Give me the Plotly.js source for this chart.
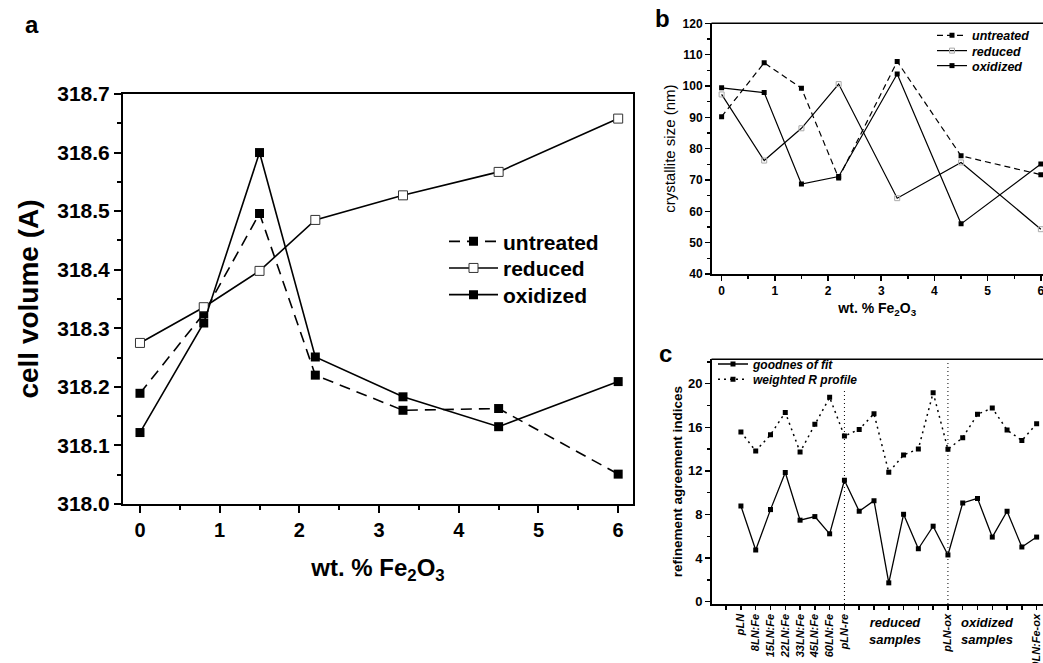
<!DOCTYPE html>
<html><head><meta charset="utf-8">
<script src="https://cdn.plot.ly/plotly-3.0.1.min.js"></script>
<style>html,body{margin:0;padding:0;background:#fff;} #chart{width:1043px;height:663px;}</style>
</head><body><div id="chart"></div>
<script>
// ---- panel a: cell volume ----
const fe2o3 = [0, 0.8, 1.5, 2.2, 3.3, 4.5, 6];
const volUntreated = [318.189, 318.325, 318.496, 318.220, 318.160, 318.163, 318.051];
const volReduced   = [318.275, 318.336, 318.398, 318.485, 318.527, 318.567, 318.658];
const volOxidized  = [318.122, 318.309, 318.600, 318.251, 318.183, 318.132, 318.209];

// ---- panel b: crystallite size ----
const sizeUntreated = [90.2, 107.4, 99.3, 70.6, 107.8, 77.7, 71.7];
const sizeReduced   = [97.3, 76.2, 86.5, 100.6, 64.2, 75.6, 54.3];
const sizeOxidized  = [99.4, 97.9, 68.7, 71.1, 103.8, 56.0, 75.1];

// ---- panel c: refinement agreement indices ----
const goodnessOfFit    = [8.78, 4.74, 8.45, 11.85, 7.48, 7.81, 6.23, 11.14, 8.30, 9.27, 1.73, 8.02, 4.86, 6.93, 4.29, 9.06, 9.48, 5.93, 8.30, 5.02, 5.93];
const weightedRProfile = [15.57, 13.83, 15.32, 17.37, 13.73, 16.27, 18.75, 15.20, 15.81, 17.25, 11.87, 13.46, 14.01, 19.18, 13.98, 15.05, 17.19, 17.77, 15.75, 14.80, 16.33];
const sampleTickLabels = ['', 'pLN', '8LN:Fe', '15LN:Fe', '22LN:Fe', '33LN:Fe', '45LN:Fe', '60LN:Fe', 'pLN-re', '', '', '', '', '', '', 'pLN-ox', '', '', '', '', '', '60LN:Fe-ox'];
const groupLabels = ['reduced<br>samples', 'oxidized<br>samples'];

const samplePos = goodnessOfFit.map((_, i) => i + 1);
const tickPos = sampleTickLabels.map((_, i) => i);

const F = 'Liberation Sans, Arial, Helvetica, sans-serif';
const W = 1043, H = 663;
const px = v => v / W;
const py = v => 1 - v / H;

const traces = [
  // panel a
  {x: fe2o3, y: volUntreated, name: 'untreated', xaxis: 'x', yaxis: 'y', legend: 'legend',
   mode: 'lines+markers', line: {color: 'black', width: 1.6, dash: '11px,7px'},
   marker: {symbol: 'square', size: 9, color: 'black'}},
  {x: fe2o3, y: volReduced, name: 'reduced', xaxis: 'x', yaxis: 'y', legend: 'legend2',
   mode: 'lines+markers', line: {color: 'black', width: 1.6},
   marker: {symbol: 'square', size: 9, color: 'white', line: {color: '#333', width: 1}}},
  {x: fe2o3, y: volOxidized, name: 'oxidized', xaxis: 'x', yaxis: 'y', legend: 'legend3',
   mode: 'lines+markers', line: {color: 'black', width: 1.6},
   marker: {symbol: 'square', size: 9, color: 'black'}},
  // panel b
  {x: fe2o3, y: sizeUntreated, name: 'untreated', xaxis: 'x2', yaxis: 'y2', legend: 'legend4',
   mode: 'lines+markers', line: {color: 'black', width: 1.2, dash: '6px,4px'},
   marker: {symbol: 'square', size: 5, color: 'black'}},
  {x: fe2o3, y: sizeReduced, name: 'reduced', xaxis: 'x2', yaxis: 'y2', legend: 'legend5',
   mode: 'lines+markers', line: {color: 'black', width: 1.2},
   marker: {symbol: 'square-open', size: 5, color: '#aaaaaa'}},
  {x: fe2o3, y: sizeOxidized, name: 'oxidized', xaxis: 'x2', yaxis: 'y2', legend: 'legend6',
   mode: 'lines+markers', line: {color: 'black', width: 1.2},
   marker: {symbol: 'square', size: 5, color: 'black'}},
  // panel c
  {x: samplePos, y: goodnessOfFit, name: 'goodnes of fit', xaxis: 'x3', yaxis: 'y3', legend: 'legend7',
   mode: 'lines+markers', line: {color: 'black', width: 1.3},
   marker: {symbol: 'square', size: 5, color: 'black'}},
  {x: samplePos, y: weightedRProfile, name: 'weighted R profile', xaxis: 'x3', yaxis: 'y3', legend: 'legend8',
   mode: 'lines+markers', line: {color: 'black', width: 1.5, dash: '2px,4px'},
   marker: {symbol: 'square', size: 5, color: 'black'}}
];

const axBase = {showline: true, linecolor: 'black', ticks: 'outside', tickcolor: 'black',
  showgrid: false, zeroline: false, automargin: false};

const sepRe = sampleTickLabels.indexOf('pLN-re');
const sepOx = sampleTickLabels.indexOf('pLN-ox');

function leg(xLeft, yMid, size, italic, iw) {
  return {x: px(xLeft), y: py(yMid), xanchor: 'left', yanchor: 'middle', bgcolor: 'rgba(0,0,0,0)',
    borderwidth: 0, itemwidth: iw,
    font: {family: F, size: size, weight: 'bold', style: italic ? 'italic' : 'normal'}};
}

const layout = {
  width: W, height: H, margin: {l: 0, r: 0, t: 0, b: 0},
  paper_bgcolor: 'white', plot_bgcolor: 'rgba(0,0,0,0)',
  font: {family: F, color: 'black'},
  showlegend: true,
  xaxis: Object.assign({}, axBase, {
    domain: [px(123), px(633)], anchor: 'y', range: [-0.213, 6.186],
    linewidth: 2, mirror: true, ticklen: 7, tickwidth: 2, tick0: 0, dtick: 1,
    minor: {dtick: 0.5, tick0: 0, ticks: 'outside', ticklen: 4, tickwidth: 2, tickcolor: 'black'},
    tickfont: {family: F, size: 20, weight: 'bold'},
    title: {text: 'wt. % Fe<sub>2</sub>O<sub>3</sub>', font: {family: F, size: 24, weight: 'bold'}, standoff: 19}
  }),
  yaxis: Object.assign({}, axBase, {
    domain: [py(504), py(94)], anchor: 'x', range: [318.0, 318.7],
    linewidth: 2, mirror: true, ticklen: 7, tickwidth: 2, tick0: 318, dtick: 0.1, tickformat: '.1f',
    minor: {dtick: 0.05, tick0: 318, ticks: 'outside', ticklen: 4, tickwidth: 2, tickcolor: 'black'},
    tickfont: {family: F, size: 21, weight: 'bold'},
    title: {text: 'cell volume (A)', font: {family: F, size: 28, weight: 'bold'}, standoff: 10}
  }),
  xaxis2: Object.assign({}, axBase, {
    domain: [px(711.5), 1], anchor: 'y2', range: [-0.19, 6.04],
    linewidth: 1.5, ticklen: 5, tickwidth: 1.5, tick0: 0, dtick: 1, ticklabeloverflow: 'allow',
    minor: {dtick: 0.5, tick0: 0, ticks: 'outside', ticklen: 3, tickwidth: 1.5, tickcolor: 'black'},
    tickfont: {family: F, size: 12, weight: 'bold'},
    title: {text: 'wt. % Fe<sub>2</sub>O<sub>3</sub>', font: {family: F, size: 14, weight: 'bold'}, standoff: 6}
  }),
  yaxis2: Object.assign({}, axBase, {
    domain: [py(274), py(23.3)], anchor: 'x2', range: [40, 120],
    linewidth: 1.5, ticklen: 5, tickwidth: 1.5, tick0: 40, dtick: 10,
    minor: {dtick: 5, tick0: 40, ticks: 'outside', ticklen: 3, tickwidth: 1.5, tickcolor: 'black'},
    tickfont: {family: F, size: 12, weight: 'bold'},
    title: {text: 'crystallite size (nm)', font: {family: F, size: 15}, standoff: 3}
  }),
  xaxis3: Object.assign({}, axBase, {
    domain: [px(711.5), 1], anchor: 'y3', range: [-0.99, 21.43],
    linewidth: 1.5, ticklen: 4, tickwidth: 1.5, ticklabeloverflow: 'allow',
    tickmode: 'array', tickvals: tickPos, ticktext: sampleTickLabels, tickangle: -90,
    tickfont: {family: F, size: 11, weight: 'bold', style: 'italic'}
  }),
  yaxis3: Object.assign({}, axBase, {
    domain: [py(604), py(359.3)], anchor: 'x3', range: [-0.21, 22.24],
    linewidth: 1.5, ticklen: 5, tickwidth: 1.5, tick0: 0, dtick: 4,
    minor: {dtick: 2, tick0: 0, ticks: 'outside', ticklen: 3, tickwidth: 1.5, tickcolor: 'black'},
    tickfont: {family: F, size: 13, weight: 'bold'},
    title: {text: 'refinement agreement indices', font: {family: F, size: 13.5, weight: 'bold'}, standoff: 2}
  }),
  legend:  leg(444, 241.7, 21, false, 49),
  legend2: leg(444, 268.3, 21, false, 49),
  legend3: leg(444, 295.0, 21, false, 49),
  legend4: leg(932, 35.7, 12.5, true, 30),
  legend5: leg(932, 51.0, 12.5, true, 30),
  legend6: leg(932, 66.0, 12.5, true, 30),
  legend7: leg(713, 364.0, 12, true, 30),
  legend8: leg(713, 379.3, 12, true, 30),
  shapes: [
    {type: 'line', xref: 'x2 domain', yref: 'y2 domain', x0: 0, x1: 1, y0: 1, y1: 1, line: {color: 'black', width: 1.5}},
    {type: 'line', xref: 'x3 domain', yref: 'y3 domain', x0: 0, x1: 1, y0: 1, y1: 1, line: {color: 'black', width: 1.5}},
    {type: 'line', xref: 'x3', yref: 'y3', x0: sepRe, x1: sepRe, y0: -0.21, y1: 19.4, line: {color: 'black', width: 1, dash: '1px,3px'}},
    {type: 'line', xref: 'x3', yref: 'y3', x0: sepOx, x1: sepOx, y0: -0.21, y1: 22.24, line: {color: 'black', width: 1, dash: '1px,3px'}}
  ],
  annotations: [
    {text: 'a', xref: 'paper', yref: 'paper', x: px(32), y: py(25), xanchor: 'center', yanchor: 'middle', showarrow: false, font: {family: F, size: 24, weight: 'bold'}},
    {text: 'b', xref: 'paper', yref: 'paper', x: px(662), y: py(18), xanchor: 'center', yanchor: 'middle', showarrow: false, font: {family: F, size: 24, weight: 'bold'}},
    {text: 'c', xref: 'paper', yref: 'paper', x: px(665), y: py(353), xanchor: 'center', yanchor: 'middle', showarrow: false, font: {family: F, size: 24, weight: 'bold'}},
    {text: groupLabels[0], xref: 'x3', yref: 'paper', x: 11.4, y: py(631), xanchor: 'center', yanchor: 'middle', showarrow: false, align: 'center',
     font: {family: F, size: 13, weight: 'bold', style: 'italic'}},
    {text: groupLabels[1], xref: 'x3', yref: 'paper', x: 17.7, y: py(631), xanchor: 'center', yanchor: 'middle', showarrow: false, align: 'center',
     font: {family: F, size: 13, weight: 'bold', style: 'italic'}}
  ]
};

Plotly.newPlot('chart', traces, layout, {staticPlot: true, displayModeBar: false});
</script>
</body></html>
